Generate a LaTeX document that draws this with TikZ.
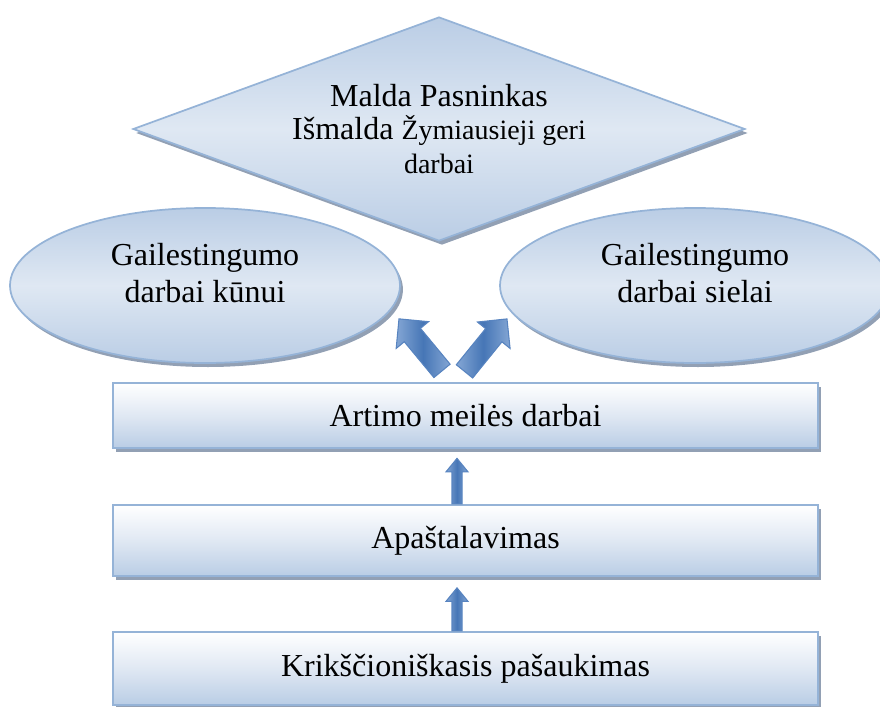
\documentclass[tikz,border=0pt]{standalone}
\usepackage{fontspec}
\setmainfont{Liberation Serif}
\usetikzlibrary{shapes.geometric,shadows,calc}
\definecolor{bord}{RGB}{149,179,215}
\definecolor{boxbot}{RGB}{185,205,229}
\definecolor{boxmid}{RGB}{224,232,243}
\definecolor{shad}{RGB}{146,160,180}
\definecolor{shapedark}{RGB}{186,205,229}
\definecolor{shapelight}{RGB}{223,232,243}
\definecolor{arrdark}{RGB}{70,118,182}
\definecolor{arrlight}{RGB}{132,166,212}
\definecolor{arrbord}{RGB}{88,132,192}
\newcommand{\bigfnt}{\fontsize{24}{24.75}\selectfont}
\newcommand{\smallfnt}{\fontsize{21}{24.75}\selectfont}
\begin{document}
\begin{tikzpicture}[x=0.75pt,y=-0.75pt,
  shadowed/.style={drop shadow={shadow xshift=2.2pt,shadow yshift=-3pt,fill=shad,opacity=1}},
  levelbox/.style={shape=rectangle,draw=bord,line width=1.7pt,top color=white,bottom color=boxbot,middle color=boxmid,shadowed,minimum width=528.75pt,inner sep=0pt,font=\bigfnt},
  oval/.style={shape=ellipse,draw=bord,line width=1.3pt,shading=axis,shading angle=-45,top color=shapedark,bottom color=shapedark,middle color=shapelight,shadowed,minimum width=292.5pt,minimum height=116.25pt,inner sep=0pt,align=center,font=\fontsize{24}{27.75}\selectfont},
  diam/.style={shape=diamond,draw=bord,line width=1.3pt,shading=axis,shading angle=-45,top color=shapedark,bottom color=shapedark,middle color=shapelight,shadowed,aspect=2.73,minimum width=459pt,minimum height=168pt,inner sep=0pt,align=center,font=\bigfnt},
  blockarrow/.style={draw=arrbord,line width=0.8pt,left color=arrlight,right color=arrlight,middle color=arrdark}
]
\useasboundingbox (0,0) rectangle (880,706);

\node[diam] (dm) at (439,129) {Malda Pasninkas\\Išmalda {\smallfnt Žymiausieji geri}\\[0.75pt]{\smallfnt darbai}};

\node[oval] (el) at (205,285.5) {Gailestingumo\\darbai kūnui\rule[-19.5pt]{0pt}{19.5pt}};
\node[oval] (er) at (695,285.5) {Gailestingumo\\darbai sielai\rule[-19.5pt]{0pt}{19.5pt}};

\node[levelbox,minimum height=48.75pt] (b1) at (465.5,415.5) {Artimo meilės darbai};
\node[levelbox,minimum height=53.25pt] (b2) at (465.5,540.5) {Apaštalavimas};
\node[levelbox,minimum height=54.75pt] (b3) at (465.5,668.5) {Krikščioniškasis pašaukimas};

% big arrows from b1 towards the ovals
\begin{scope}[shift={($(b1.north)+(-23.5,-11)$)},rotate=129.6,x=0.75pt,y=0.75pt]
  \path[blockarrow] (0,-10.5) -- (46.5,-10.5) -- (46.5,-21) -- (67.5,0) -- (46.5,21) -- (46.5,10.5) -- (0,10.5) -- cycle;
\end{scope}
\begin{scope}[shift={($(b1.north)+(-1,-10.5)$)},rotate=51,x=0.75pt,y=0.75pt]
  \path[blockarrow] (0,-10.5) -- (46.5,-10.5) -- (46.5,-21) -- (67.5,0) -- (46.5,21) -- (46.5,10.5) -- (0,10.5) -- cycle;
\end{scope}

% small arrows between boxes
\begin{scope}[shift={($(b3.north)+(-8.5,0)$)},rotate=90,x=0.75pt,y=0.75pt]
  \path[blockarrow] (0,-5) -- (29.5,-5) -- (29.5,-11) -- (43,0) -- (29.5,11) -- (29.5,5) -- (0,5) -- cycle;
\end{scope}
\begin{scope}[shift={($(b2.north)+(-8.5,0)$)},rotate=90,x=0.75pt,y=0.75pt]
  \path[blockarrow] (0,-5) -- (32,-5) -- (32,-11) -- (45.5,0) -- (32,11) -- (32,5) -- (0,5) -- cycle;
\end{scope}
\end{tikzpicture}
\end{document}
